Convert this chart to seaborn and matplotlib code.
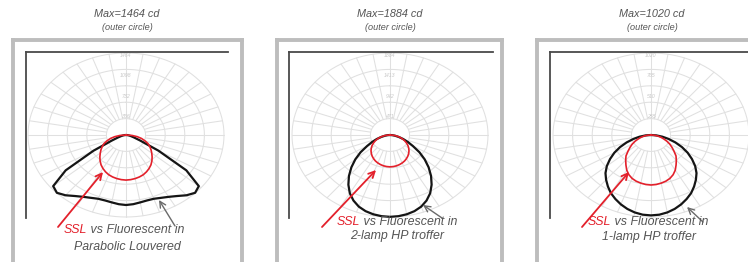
import numpy as np
import pandas as pd
import matplotlib
matplotlib.use("Agg")
import matplotlib.pyplot as plt
import seaborn as sns

sns.set_theme(style="white")
plt.rcParams["font.family"] = ["Liberation Sans", "DejaVu Sans"]

# ---------------- data (candela vs angle from nadir, symmetric) ----------------
angles = [0, 5, 10, 15, 20, 25, 30, 35, 40, 45, 50, 55, 60, 65, 70, 75, 80, 85, 90]

titles = ["Max=1464 cd", "Max=1884 cd", "Max=1020 cd"]
max_cd = [1464, 1884, 1020]
ring_labels = [["366", "732", "1098", "1464"],
               ["471", "942", "1413", "1884"],
               ["255", "510", "765", "1020"]]
captions = ["Parabolic Louvered", "2-lamp HP troffer", "1-lamp HP troffer"]

fluor_1 = [1250, 1240, 1222, 1210, 1212, 1238, 1275, 1330, 1405, 1460, 1420, 1100, 560, 230, 125, 75, 42, 16, 0]
ssl_1 = [805, 800, 790, 775, 755, 725, 690, 650, 602, 552, 502, 456, 410, 362, 300, 240, 170, 90, 0]

fluor_2 = [1880, 1872, 1850, 1812, 1752, 1662, 1545, 1395, 1228, 1050, 870, 690, 510, 380, 270, 175, 100, 42, 0]
ssl_2 = [732, 728, 719, 704, 684, 660, 630, 596, 558, 516, 470, 420, 366, 310, 252, 192, 130, 66, 0]

fluor_3 = [1000, 995, 978, 952, 918, 878, 835, 782, 727, 670, 600, 520, 440, 355, 270, 190, 120, 55, 0]
ssl_3 = [622, 618, 608, 595, 575, 545, 505, 455, 410, 368, 312, 266, 225, 182, 140, 105, 70, 35, 0]

fluor = [fluor_1, fluor_2, fluor_3]
ssl = [ssl_1, ssl_2, ssl_3]

# ---------------- layout (pixels) ----------------
W, H = 748, 262
CY = 135
RX, RY = 98, 82
frames = [(13, 242), (277, 502), (537, 770)]
inners = [(26, 228), (289, 493), (550, 770)]
centers = [126, 390, 651]
title_x = [127, 390, 652]
junction_x = [87, 360, 611]
cap_x = [127, 397, 649]
cap_y1 = [230, 222, 222]
cap_y2 = [247, 236, 237]
red_arrows = [((58, 227), (103, 172)), ((322, 227), (376, 170)), ((582, 227), (629, 172))]
gray_arrows = [((175, 226), (159, 200)), ((442, 218), (423, 205)), ((703, 222), (687, 207))]

RED = "#e3202b"
TXT = "#555555"

fig = plt.figure(figsize=(W / 100, H / 100), dpi=100)
fig.patch.set_facecolor("white")


def fxy(px, py):
    return px / W, 1 - py / H


def mirror(vals):
    a = np.array(angles, dtype=float)
    v = np.array(vals, dtype=float)
    th = np.concatenate([-a[::-1], a[1:]])
    iv = np.concatenate([v[::-1], v[1:]])
    rad = np.deg2rad(th)
    return iv * np.sin(rad), -iv * np.cos(rad)


for i in range(3):
    M = max_cd[i]
    # gray outer frame
    fl, fr = frames[i]
    fax = fig.add_axes([fl / W, 1 - 268 / H, (fr - fl) / W, (268 - 40) / H])
    fax.set_xticks([]); fax.set_yticks([])
    fax.patch.set_alpha(0)
    for s in ["left", "top", "right"]:
        fax.spines[s].set_color("#bdbdbd")
        fax.spines[s].set_linewidth(2.8)
        fax.spines[s].set_visible(True)
    fax.spines["bottom"].set_visible(False)

    # main polar-like axes (stretched)
    ix0, ix1 = inners[i]
    y0, y1 = 52, 218
    ax = fig.add_axes([ix0 / W, 1 - y1 / H, (ix1 - ix0) / W, (y1 - y0) / H])
    cx = centers[i]
    sx = M / RX
    sy = M / RY
    ax.set_xlim((ix0 - cx) * sx, (ix1 - cx) * sx)
    ax.set_ylim(-(y1 - CY) * sy, (CY - y0) * sy)
    ax.set_xticks([]); ax.set_yticks([])
    ax.patch.set_alpha(0)
    for s in ["left", "top"]:
        ax.spines[s].set_visible(True)
        ax.spines[s].set_color("#4a4a4a")
        ax.spines[s].set_linewidth(1.3)
    ax.spines["right"].set_visible(False)
    ax.spines["bottom"].set_visible(False)

    # grid
    t = np.linspace(0, 2 * np.pi, 361)
    gc = "#e0e0e0"
    for k in range(1, 6):
        r = M * k / 5
        ax.plot(r * np.sin(t), r * np.cos(t), color=gc, lw=0.75, zorder=1)
    for d in range(0, 360, 10):
        rr = np.deg2rad(d)
        rin = 0 if d % 180 == 0 else M / 5
        ax.plot([rin * np.sin(rr), M * np.sin(rr)], [rin * np.cos(rr), M * np.cos(rr)],
                color=gc, lw=0.75, zorder=1)
    for k, lab in enumerate(ring_labels[i]):
        ax.text(0, M * (k + 1) / 4 - M * 0.03, lab, fontsize=3.8, color="#c8c8c8",
                ha="center", va="center", style="italic", zorder=2)

    # curves
    xf, yf = mirror(fluor[i])
    xs, ys = mirror(ssl[i])
    df = pd.DataFrame({
        "x": np.concatenate([xf, xs]),
        "y": np.concatenate([yf, ys]),
        "series": ["Fluorescent"] * len(xf) + ["SSL"] * len(xs),
    })
    sns.lineplot(data=df[df.series == "Fluorescent"], x="x", y="y", sort=False,
                 estimator=None, color="#151515", lw=1.6, ax=ax, zorder=3)
    sns.lineplot(data=df[df.series == "SSL"], x="x", y="y", sort=False,
                 estimator=None, color=RED, lw=1.2, ax=ax, zorder=4)
    ax.set_xlabel(""); ax.set_ylabel("")

    # titles
    fig.text(*fxy(title_x[i], 14), titles[i], ha="center", va="center",
             fontsize=7.8, style="italic", color=TXT)
    fig.text(*fxy(title_x[i], 28), "(outer circle)", ha="center", va="center",
             fontsize=6.6, style="italic", color=TXT)

    # captions
    fig.text(*fxy(junction_x[i], cap_y1[i]), "SSL", ha="right", va="center",
             fontsize=8.9, style="italic", color=RED)
    fig.text(*fxy(junction_x[i], cap_y1[i]), " vs Fluorescent in", ha="left", va="center",
             fontsize=8.9, style="italic", color=TXT)
    fig.text(*fxy(cap_x[i], cap_y2[i]), captions[i], ha="center", va="center",
             fontsize=8.9, style="italic", color=TXT)

    # arrows
    (tx, ty), (hx, hy) = red_arrows[i]
    ax.annotate("", xy=fxy(hx, hy), xycoords="figure fraction",
                xytext=fxy(tx, ty), textcoords="figure fraction",
                arrowprops=dict(arrowstyle="->", color=RED, lw=1.3, mutation_scale=11,
                                shrinkA=0, shrinkB=0), annotation_clip=False)
    (tx, ty), (hx, hy) = gray_arrows[i]
    ax.annotate("", xy=fxy(hx, hy), xycoords="figure fraction",
                xytext=fxy(tx, ty), textcoords="figure fraction",
                arrowprops=dict(arrowstyle="->", color="#6a6a6a", lw=1.0, mutation_scale=11,
                                shrinkA=0, shrinkB=0), annotation_clip=False)

fig.savefig("out.png", dpi=100, facecolor="white")
